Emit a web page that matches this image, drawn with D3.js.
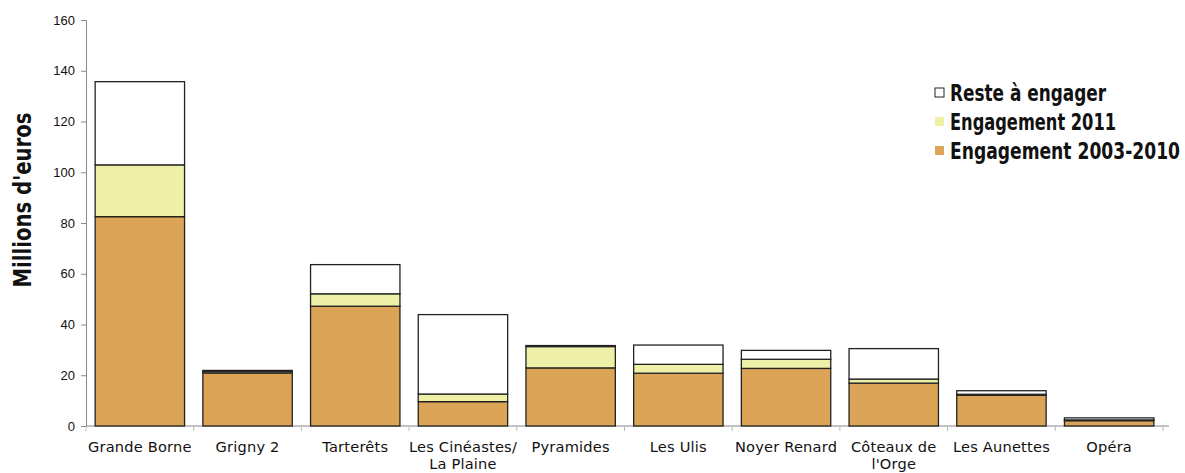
<html>
<script src="https://d3js.org/d3.v7.min.js"></script>
<style>
body {margin: 0; background: white;}
.tick text {font: 13px "Liberation Sans", Arial, sans-serif; fill: #111;}
.cat {font: 14.6px "DejaVu Sans", sans-serif; letter-spacing: 0.2px; fill: #111; text-anchor: middle;}
.title {font: bold 24px "DejaVu Sans", sans-serif; fill: #111;}
.leg {font: bold 23px "DejaVu Sans", sans-serif; fill: #111;}
</style>
<body>
<svg width="1185" height="473"></svg>
<script>
var categories = ["Grande Borne", "Grigny 2", "Tarterêts", "Les Cinéastes/\nLa Plaine", "Pyramides",
                  "Les Ulis", "Noyer Renard", "Côteaux de\nl'Orge", "Les Aunettes", "Opéra"];
var engagement0310 = [82.5, 20.9, 47.2, 9.6, 22.9, 20.8, 22.7, 16.9, 12.1, 2.1];
var engagement2011 = [20.4, 0.6, 4.9, 3.0, 8.4, 3.5, 3.6, 1.6, 0.4, 0.3];
var resteAEngager  = [32.8, 0.4, 11.5, 31.3, 0.4, 7.6, 3.5, 12.0, 1.4, 0.8];
var yTicks = [0, 20, 40, 60, 80, 100, 120, 140, 160];
var seriesNames = ["Reste à engager", "Engagement 2011", "Engagement 2003-2010"];
var legendWidths = [156, 166, 230];

var colors = {"Engagement 2003-2010": "#dca456", "Engagement 2011": "#eef0a8", "Reste à engager": "#ffffff"};

var mLeft = 86, mRight = 1163, mTop = 20, mBottom = 426;
var svg = d3.select("svg");

var x = d3.scaleBand().domain(categories).range([mLeft, mRight]).paddingInner(0.17).paddingOuter(0.085);
var y = d3.scaleLinear().domain([0, 160]).range([mBottom, mTop]);

var table = categories.map(function(c, i) {
    return {cat: c, "Engagement 2003-2010": engagement0310[i], "Engagement 2011": engagement2011[i], "Reste à engager": resteAEngager[i]};
});
var stack = d3.stack().keys(["Engagement 2003-2010", "Engagement 2011", "Reste à engager"]);
var layers = stack(table);

// axes
var yAxis = svg.append("g")
    .attr("transform", "translate(" + mLeft + ",0)")
    .call(d3.axisLeft(y).tickValues(yTicks).tickSize(5).tickPadding(6));
yAxis.select(".domain").attr("stroke", "#888");
yAxis.selectAll(".tick line").attr("stroke", "#888");

// x axis line + band boundary ticks
var step = x.step();
var xAx = svg.append("g");
xAx.append("line").attr("x1", mLeft).attr("x2", mRight + 6).attr("y1", mBottom).attr("y2", mBottom).attr("stroke", "#888");
xAx.selectAll(".xt").data(d3.range(categories.length + 1)).enter().append("line")
    .attr("x1", function(i) { return mLeft + i * step; })
    .attr("x2", function(i) { return mLeft + i * step; })
    .attr("y1", mBottom).attr("y2", mBottom + 5).attr("stroke", "#bbb");

// bars
svg.selectAll(".layer").data(layers).enter().append("g")
    .attr("fill", function(d) { return colors[d.key]; })
    .selectAll("rect").data(function(d) { return d; }).enter().append("rect")
    .attr("x", function(d) { return x(d.data.cat); })
    .attr("width", x.bandwidth())
    .attr("y", function(d) { return y(d[1]); })
    .attr("height", function(d) { return y(d[0]) - y(d[1]); })
    .attr("stroke", "#222")
    .attr("stroke-width", 1.3);

// category labels
svg.selectAll(".cat").data(categories).enter().append("text")
    .attr("class", "cat")
    .attr("x", function(d) { return x(d) + x.bandwidth() / 2; })
    .attr("y", 452)
    .each(function(d) {
        var lines = d.split("\n");
        var t = d3.select(this);
        lines.forEach(function(l, j) {
            t.append("tspan").attr("x", x(d) + x.bandwidth() / 2).attr("dy", j ? 17 : 0).text(l);
        });
    });

// y title
svg.append("text").attr("class", "title")
    .attr("transform", "translate(31,200) rotate(-90)")
    .attr("text-anchor", "middle")
    .attr("textLength", 175).attr("lengthAdjust", "spacingAndGlyphs")
    .text("Millions d'euros");

// legend
var leg = svg.selectAll(".legrow").data(seriesNames).enter().append("g")
    .attr("transform", function(d, i) { return "translate(935," + (92 + i * 29) + ")"; });
leg.append("rect").attr("x", 0).attr("y", -4).attr("width", 9).attr("height", 9)
    .attr("fill", function(d) { return colors[d]; })
    .attr("stroke", function(d) { return d == "Reste à engager" ? "#222" : "none"; });
leg.append("text").attr("class", "leg").attr("x", 15).attr("y", 9)
    .attr("textLength", function(d, i) { return legendWidths[i]; })
    .attr("lengthAdjust", "spacingAndGlyphs")
    .text(function(d) { return d; });
</script>
</body>
</html>
